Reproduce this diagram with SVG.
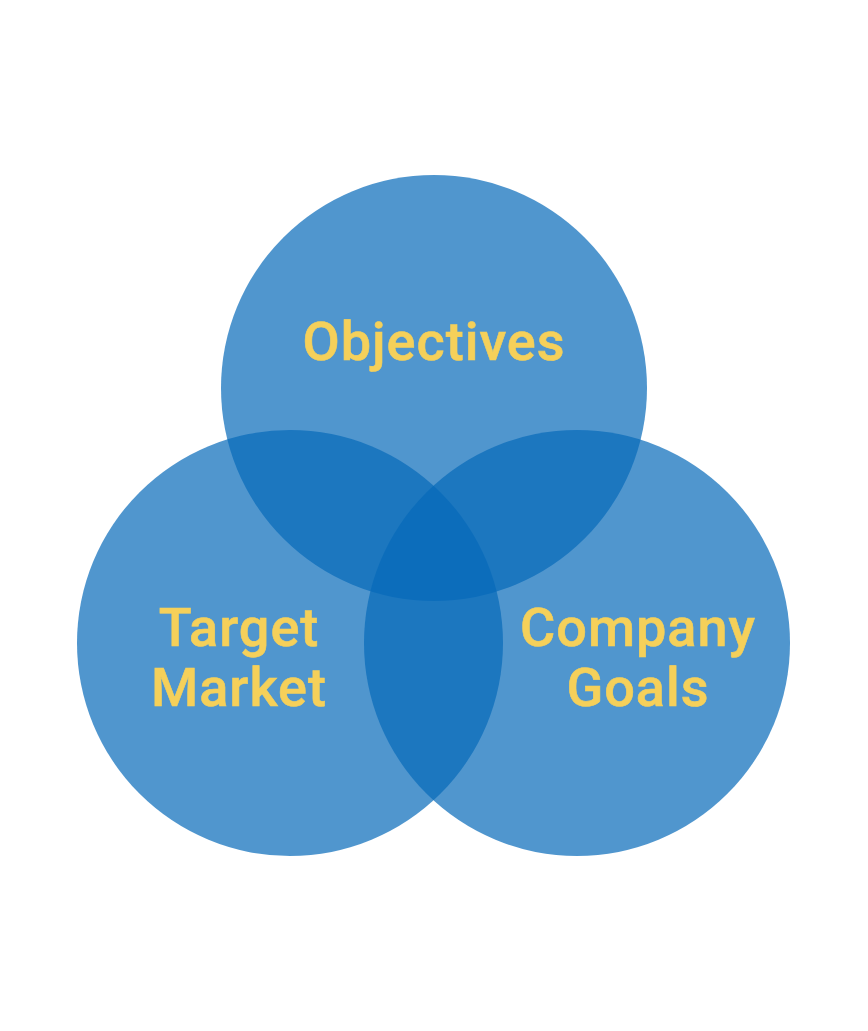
<svg xmlns="http://www.w3.org/2000/svg" width="868" height="1031" viewBox="0 0 868 1031">
<style>
.c{fill:#0669B9;fill-opacity:0.7}
.t{font-family:Roboto,"Noto Sans",sans-serif;font-weight:500;font-size:54px;fill:#F5D05A;text-anchor:middle;letter-spacing:1px;stroke:#F5D05A;stroke-width:0.6px}
</style>
<rect width="868" height="1031" fill="#ffffff"/>
<g id="connectors"></g>
<g id="objectives">
<circle class="c" cx="434" cy="388" r="213"/>
</g>
<g id="target-market">
<circle class="c" cx="290" cy="643" r="213"/>
</g>
<g id="company-goals">
<circle class="c" cx="577" cy="643" r="213"/>
</g>
<g id="labels">
<text class="t" x="434" y="360">Objectives</text>
<text class="t" x="239" y="646">Target</text>
<text class="t" x="239" y="706">Market</text>
<text class="t" x="638" y="646">Company</text>
<text class="t" x="638" y="706">Goals</text>
</g>
</svg>
